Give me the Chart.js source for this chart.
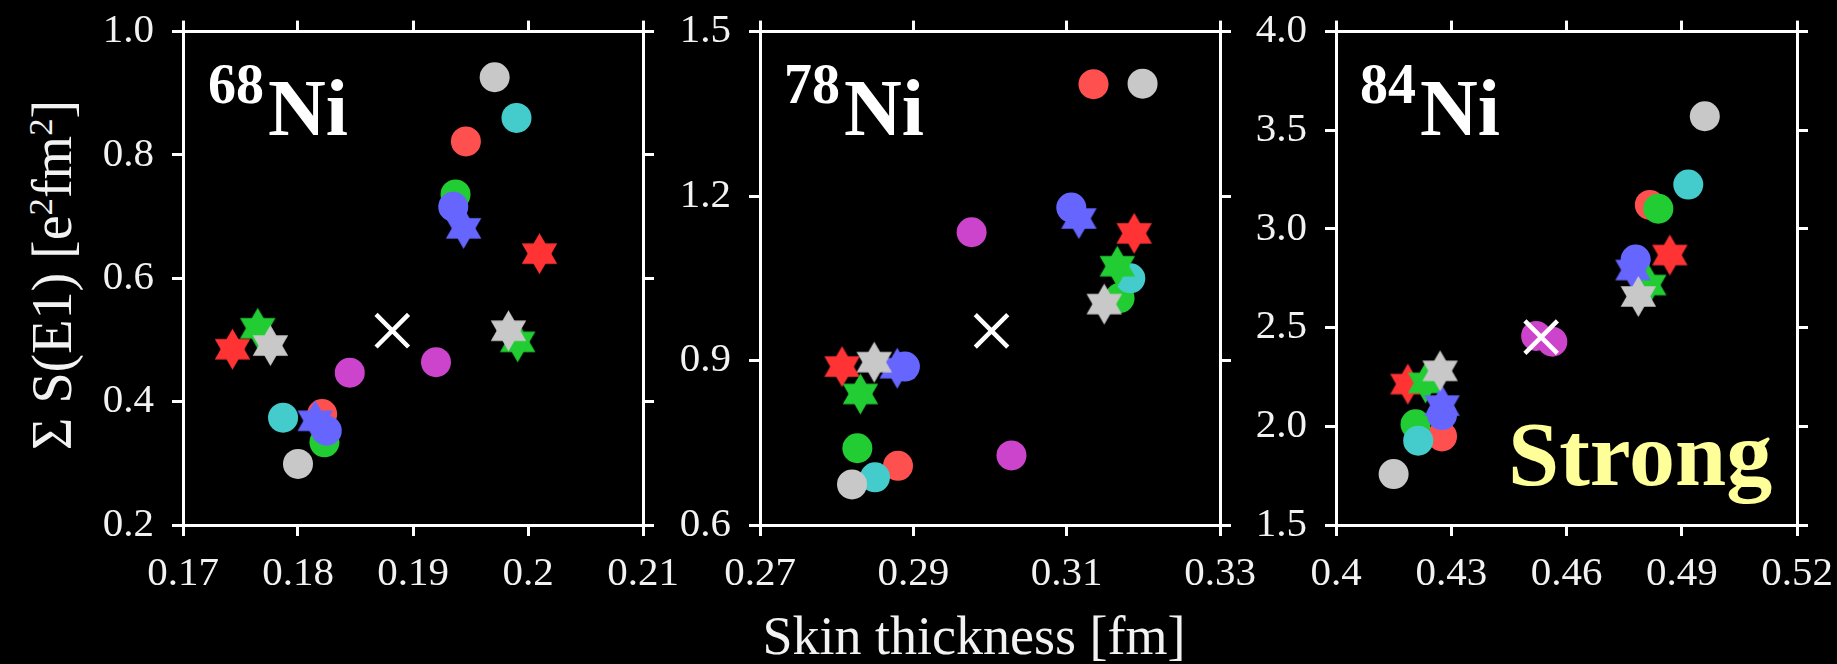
<!DOCTYPE html>
<html>
<head>
<meta charset="utf-8">
<script src="https://cdn.jsdelivr.net/npm/chart.js@4.4.1/dist/chart.umd.min.js"></script>
<style>
  html, body { margin: 0; padding: 0; background: #000; }
  #wrap { position: relative; width: 1837px; height: 664px; overflow: hidden; background: #000;
          font-family: "Liberation Serif", "Times New Roman", serif; color: #f2f2f2; }
  canvas { position: absolute; }
  .txt { position: absolute; white-space: nowrap; line-height: 1; }
  .mass { font-size: 56px; font-weight: bold; color: #fff; }
  .elem { font-size: 80px; font-weight: bold; color: #fff; }
  #strong { font-size: 92px; font-weight: bold; color: #ffff99; }
  #xTitle { font-size: 54px; }
  #yTitle { font-size: 56px; transform: translate(-50%, -50%) rotate(-90deg); }
  #yTitle sup { font-size: 0.62em; vertical-align: 0.55em; line-height: 0; }
</style>
</head>
<body>
<div id="wrap">
  <canvas id="c68"></canvas>
  <canvas id="c78"></canvas>
  <canvas id="c84"></canvas>

  <div class="txt mass" style="left:208px; top:56px;">68</div>
  <div class="txt elem" style="left:268px; top:68px;">Ni</div>
  <div class="txt mass" style="left:784px; top:56px;">78</div>
  <div class="txt elem" style="left:844px; top:68px;">Ni</div>
  <div class="txt mass" style="left:1360px; top:56px;">84</div>
  <div class="txt elem" style="left:1420px; top:68px;">Ni</div>
  <div class="txt" id="strong" style="left:1508px; top:408px;">Strong</div>

  <div class="txt" id="xTitle" style="left:974px; top:609px; transform: translateX(-50%);">Skin thickness [fm]</div>
  <div class="txt" id="yTitle" style="left:52px; top:275px;">&Sigma; S(E1) [e<sup>2</sup>fm<sup>2</sup>]</div>
</div>

<script>
// === data: [skin thickness, sum S(E1)] per model colour ===
const ni68Circles = {
    red:    [[0.1946, 0.822], [0.1821, 0.380]],
    green:  [[0.1937, 0.736], [0.1823, 0.334]],
    blue:   [[0.1935, 0.716], [0.1825, 0.353]],
    cyan:   [[0.1990, 0.860], [0.1787, 0.374]],
    gray:   [[0.1971, 0.926], [0.1800, 0.299]],
    purple: [[0.1920, 0.464], [0.1845, 0.447]],
};
const ni68Stars = {
    red:   [[0.2010, 0.640], [0.1743, 0.485]],
    green: [[0.1765, 0.519], [0.1991, 0.497]],
    blue:  [[0.1944, 0.681], [0.1815, 0.369]],
    gray:  [[0.1776, 0.491], [0.1983, 0.515]],
};
const ni68Cross = [[0.1882, 0.515]];

const ni78Circles = {
    red:    [[0.3135, 1.404], [0.2880, 0.708]],
    green:  [[0.3169, 1.014], [0.2827, 0.740]],
    blue:   [[0.3106, 1.179], [0.2889, 0.889]],
    cyan:   [[0.3183, 1.050], [0.2850, 0.687]],
    gray:   [[0.3199, 1.405], [0.2820, 0.674]],
    purple: [[0.2976, 1.134], [0.3028, 0.727]],
};
const ni78Stars = {
    red:   [[0.3188, 1.132], [0.2807, 0.889]],
    green: [[0.3166, 1.072], [0.2831, 0.839]],
    blue:  [[0.3116, 1.159], [0.2879, 0.886]],
    gray:  [[0.3149, 1.003], [0.2849, 0.897]],
};
const ni78Cross = [[0.3002, 0.954]];

const ni84Circles = {
    red:    [[0.4817, 3.122], [0.4276, 1.949]],
    green:  [[0.4839, 3.103], [0.4207, 2.010]],
    blue:   [[0.4780, 2.845], [0.4276, 2.057]],
    cyan:   [[0.4917, 3.225], [0.4214, 1.927]],
    gray:   [[0.4960, 3.571], [0.4150, 1.758]],
    purple: [[0.4521, 2.458], [0.4563, 2.429]],
};
const ni84Stars = {
    red:   [[0.4869, 2.868], [0.4187, 2.214]],
    green: [[0.4814, 2.716], [0.4233, 2.220]],
    blue:  [[0.4773, 2.792], [0.4276, 2.105]],
    gray:  [[0.4787, 2.658], [0.4271, 2.281]],
};
const ni84Cross = [[0.4534, 2.452]];

// tick values
const ni68XTicks = [0.17, 0.18, 0.19, 0.2, 0.21];
const ni68YTicks = [0.2, 0.4, 0.6, 0.8, 1.0];
const ni78XTicks = [0.27, 0.29, 0.31, 0.33];
const ni78YTicks = [0.6, 0.9, 1.2, 1.5];
const ni84XTicks = [0.4, 0.43, 0.46, 0.49, 0.52];
const ni84YTicks = [1.5, 2.0, 2.5, 3.0, 3.5, 4.0];

// === styles ===
const circleColors = {
    red: "#ff5050", green: "#22cc33", blue: "#6666ff",
    cyan: "#44cccc", gray: "#c8c8c8", purple: "#cc44cc",
};
const starColors = {
    red: "#ff3333", green: "#22cc33", blue: "#6666ff", gray: "#c8c8c8",
};

const FRAME_TOP = 24, FRAME_BOTTOM = 525;
const AX_L = 90, AX_R = 50, AX_T = 35, AX_B = 75;
const TICK_FONT = { family: "'Liberation Serif', 'Times New Roman', serif", size: 41 };

// six-pointed star used as point image
function makeStar(color, r) {
    const size = Math.ceil(2 * r) + 4;
    const cv = document.createElement("canvas");
    cv.width = size; cv.height = size;
    const g = cv.getContext("2d");
    const c = size / 2;
    g.fillStyle = color;
    [-90, 90].forEach(a0 => {
        g.beginPath();
        for (let k = 0; k < 3; k++) {
            const a = (a0 + k * 120) * Math.PI / 180;
            const px = c + r * Math.cos(a), py = c + r * Math.sin(a);
            if (k === 0) g.moveTo(px, py); else g.lineTo(px, py);
        }
        g.closePath();
        g.fill();
    });
    return cv;
}

const toPts = arr => arr.map(([x, y]) => ({ x, y }));

// lower "order" is drawn on top: cross > stars > circles, later colours above earlier
function buildDatasets(circles, stars, cross) {
    const sets = [];
    sets.push({
        data: toPts(cross), pointStyle: "crossRot", pointRadius: 23,
        borderColor: "#ffffff", pointBorderWidth: 4.5, backgroundColor: "#ffffff", order: 0,
    });
    Object.entries(stars).forEach(([key, pts], i) => {
        sets.push({
            data: toPts(pts), pointStyle: makeStar(starColors[key], 20.5), pointRadius: 20, order: 10 - i,
        });
    });
    Object.entries(circles).forEach(([key, pts], i) => {
        sets.push({
            data: toPts(pts), pointStyle: "circle", pointRadius: 15, pointBorderWidth: 0,
            backgroundColor: circleColors[key], borderColor: circleColors[key], order: 30 - i,
        });
    });
    return sets;
}

function axis(pos, min, max, ticks, fmt, size, showLabels) {
    const horizontal = pos === "top" || pos === "bottom";
    return {
        type: "linear", position: pos, min, max,
        afterBuildTicks: s => { s.ticks = ticks.map(v => ({ value: v })); },
        afterFit: s => { if (horizontal) s.height = size; else s.width = size; },
        grid: { drawOnChartArea: false, drawTicks: true, tickLength: 11, lineWidth: 3, color: "#ffffff" },
        border: { display: true, color: "#ffffff", width: 3 },
        ticks: {
            display: showLabels, autoSkip: false, maxRotation: 0, color: "#f2f2f2",
            font: TICK_FONT, padding: horizontal ? 14 : 18, callback: v => fmt(v),
        },
    };
}

function makePanel(id, frameLeft, frameRight, circles, stars, cross, xTicks, yTicks) {
    const cv = document.getElementById(id);
    const w = AX_L + (frameRight - frameLeft) + AX_R;
    const h = AX_T + (FRAME_BOTTOM - FRAME_TOP) + AX_B;
    cv.width = w; cv.height = h;
    cv.style.left = (frameLeft - AX_L) + "px";
    cv.style.top = (FRAME_TOP - AX_T) + "px";
    cv.style.width = w + "px"; cv.style.height = h + "px";

    const xMin = xTicks[0], xMax = xTicks[xTicks.length - 1];
    const yMin = yTicks[0], yMax = yTicks[yTicks.length - 1];
    const fx = v => String(Math.round(v * 1000) / 1000);
    const fy = v => v.toFixed(1);

    return new Chart(cv.getContext("2d"), {
        type: "scatter",
        data: { datasets: buildDatasets(circles, stars, cross) },
        options: {
            responsive: false,
            animation: false,
            devicePixelRatio: 1,
            layout: { padding: 0 },
            plugins: { legend: { display: false }, tooltip: { enabled: false } },
            scales: {
                x: axis("bottom", xMin, xMax, xTicks, fx, AX_B, true),
                x2: axis("top", xMin, xMax, xTicks, fx, AX_T, false),
                y: axis("left", yMin, yMax, yTicks, fy, AX_L, true),
                y2: axis("right", yMin, yMax, yTicks, fy, AX_R, false),
            },
        },
    });
}

makePanel("c68", 183, 643, ni68Circles, ni68Stars, ni68Cross, ni68XTicks, ni68YTicks);
makePanel("c78", 760, 1220, ni78Circles, ni78Stars, ni78Cross, ni78XTicks, ni78YTicks);
makePanel("c84", 1336, 1797, ni84Circles, ni84Stars, ni84Cross, ni84XTicks, ni84YTicks);
</script>
</body>
</html>
